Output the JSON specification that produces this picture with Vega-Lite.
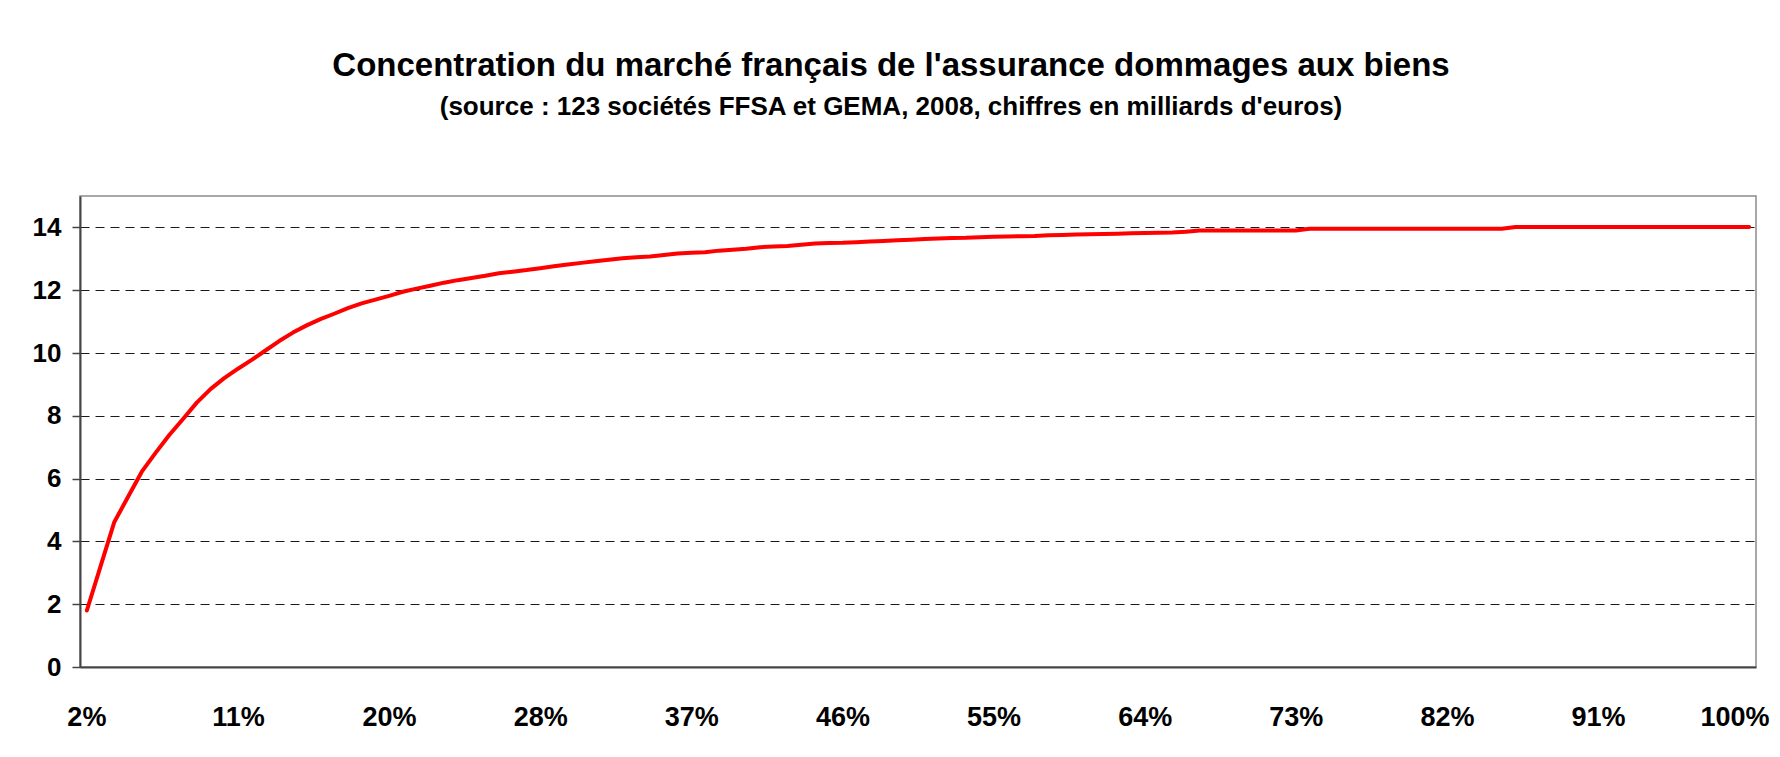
{
  "$schema": "https://vega.github.io/schema/vega-lite/v6.json",
  "autosize": {"type": "none"},
  "width": 1676,
  "height": 471,
  "padding": {"left": 80, "top": 196, "right": 24, "bottom": 90},
  "background": "white",
  "title": {
    "text": "Concentration du marché français de l'assurance dommages aux biens",
    "subtitle": "(source : 123 sociétés FFSA et GEMA, 2008, chiffres en milliards d'euros)",
    "anchor": "middle",
    "frame": "group",
    "dx": -27,
    "offset": 76,
    "font": "Liberation Sans",
    "fontSize": 33,
    "fontWeight": "bold",
    "color": "black",
    "subtitleFont": "Liberation Sans",
    "subtitleFontSize": 26,
    "subtitleFontWeight": "bold",
    "subtitleColor": "black",
    "subtitlePadding": 11
  },
  "config": {
    "view": {"stroke": "#8c8c8c", "strokeWidth": 1.5},
    "axis": {
      "labelFont": "Liberation Sans",
      "labelFontWeight": "bold",
      "labelColor": "black"
    }
  },
  "data": {
    "values": [
      {"rang": 2, "cumul": 1.80}, {"rang": 3, "cumul": 3.21}, {"rang": 4, "cumul": 4.62}, {"rang": 5, "cumul": 5.42},
      {"rang": 6, "cumul": 6.22}, {"rang": 7, "cumul": 6.82}, {"rang": 8, "cumul": 7.39}, {"rang": 9, "cumul": 7.90},
      {"rang": 10, "cumul": 8.42}, {"rang": 11, "cumul": 8.85}, {"rang": 12, "cumul": 9.20}, {"rang": 13, "cumul": 9.50},
      {"rang": 14, "cumul": 9.78}, {"rang": 15, "cumul": 10.08}, {"rang": 16, "cumul": 10.38}, {"rang": 17, "cumul": 10.65},
      {"rang": 18, "cumul": 10.88}, {"rang": 19, "cumul": 11.08}, {"rang": 20, "cumul": 11.25}, {"rang": 21, "cumul": 11.43},
      {"rang": 22, "cumul": 11.58}, {"rang": 23, "cumul": 11.70}, {"rang": 24, "cumul": 11.82}, {"rang": 25, "cumul": 11.95},
      {"rang": 26, "cumul": 12.05}, {"rang": 27, "cumul": 12.14}, {"rang": 28, "cumul": 12.24}, {"rang": 29, "cumul": 12.32},
      {"rang": 30, "cumul": 12.39}, {"rang": 31, "cumul": 12.46}, {"rang": 32, "cumul": 12.54}, {"rang": 33, "cumul": 12.59},
      {"rang": 34, "cumul": 12.64}, {"rang": 35, "cumul": 12.70}, {"rang": 36, "cumul": 12.76}, {"rang": 37, "cumul": 12.82},
      {"rang": 38, "cumul": 12.87}, {"rang": 39, "cumul": 12.92}, {"rang": 40, "cumul": 12.97}, {"rang": 41, "cumul": 13.02},
      {"rang": 42, "cumul": 13.05}, {"rang": 43, "cumul": 13.07}, {"rang": 44, "cumul": 13.12}, {"rang": 45, "cumul": 13.17},
      {"rang": 46, "cumul": 13.19}, {"rang": 47, "cumul": 13.21}, {"rang": 48, "cumul": 13.26}, {"rang": 49, "cumul": 13.29},
      {"rang": 50, "cumul": 13.32}, {"rang": 51, "cumul": 13.37}, {"rang": 52, "cumul": 13.39}, {"rang": 53, "cumul": 13.41},
      {"rang": 54, "cumul": 13.45}, {"rang": 55, "cumul": 13.49}, {"rang": 56, "cumul": 13.50}, {"rang": 57, "cumul": 13.51},
      {"rang": 58, "cumul": 13.53}, {"rang": 59, "cumul": 13.55}, {"rang": 60, "cumul": 13.57}, {"rang": 61, "cumul": 13.59},
      {"rang": 62, "cumul": 13.61}, {"rang": 63, "cumul": 13.63}, {"rang": 64, "cumul": 13.65}, {"rang": 65, "cumul": 13.66},
      {"rang": 66, "cumul": 13.67}, {"rang": 67, "cumul": 13.69}, {"rang": 68, "cumul": 13.70}, {"rang": 69, "cumul": 13.71},
      {"rang": 70, "cumul": 13.72}, {"rang": 71, "cumul": 13.73}, {"rang": 72, "cumul": 13.75}, {"rang": 73, "cumul": 13.76},
      {"rang": 74, "cumul": 13.77}, {"rang": 75, "cumul": 13.78}, {"rang": 76, "cumul": 13.79}, {"rang": 77, "cumul": 13.80},
      {"rang": 78, "cumul": 13.81}, {"rang": 79, "cumul": 13.82}, {"rang": 80, "cumul": 13.83}, {"rang": 81, "cumul": 13.84},
      {"rang": 82, "cumul": 13.86}, {"rang": 83, "cumul": 13.90}, {"rang": 84, "cumul": 13.90}, {"rang": 85, "cumul": 13.90},
      {"rang": 86, "cumul": 13.90}, {"rang": 87, "cumul": 13.90}, {"rang": 88, "cumul": 13.90}, {"rang": 89, "cumul": 13.90},
      {"rang": 90, "cumul": 13.90}, {"rang": 91, "cumul": 13.96}, {"rang": 92, "cumul": 13.96}, {"rang": 93, "cumul": 13.96},
      {"rang": 94, "cumul": 13.96}, {"rang": 95, "cumul": 13.96}, {"rang": 96, "cumul": 13.96}, {"rang": 97, "cumul": 13.96},
      {"rang": 98, "cumul": 13.96}, {"rang": 99, "cumul": 13.96}, {"rang": 100, "cumul": 13.96}, {"rang": 101, "cumul": 13.96},
      {"rang": 102, "cumul": 13.96}, {"rang": 103, "cumul": 13.96}, {"rang": 104, "cumul": 13.96}, {"rang": 105, "cumul": 13.96},
      {"rang": 106, "cumul": 14.01}, {"rang": 107, "cumul": 14.01}, {"rang": 108, "cumul": 14.01}, {"rang": 109, "cumul": 14.01},
      {"rang": 110, "cumul": 14.01}, {"rang": 111, "cumul": 14.01}, {"rang": 112, "cumul": 14.01}, {"rang": 113, "cumul": 14.01},
      {"rang": 114, "cumul": 14.01}, {"rang": 115, "cumul": 14.01}, {"rang": 116, "cumul": 14.01}, {"rang": 117, "cumul": 14.01},
      {"rang": 118, "cumul": 14.01}, {"rang": 119, "cumul": 14.01}, {"rang": 120, "cumul": 14.01}, {"rang": 121, "cumul": 14.01},
      {"rang": 122, "cumul": 14.01}, {"rang": 123, "cumul": 14.01}
    ]
  },
  "mark": {"type": "line", "color": "#ff0000", "strokeWidth": 4, "strokeCap": "round", "strokeJoin": "round"},
  "encoding": {
    "x": {
      "field": "rang",
      "type": "quantitative",
      "scale": {"domain": [1.5, 123.5], "nice": false, "zero": false},
      "axis": {
        "title": null,
        "values": [2, 13, 24, 35, 46, 57, 68, 79, 90, 101, 112, 123],
        "labelExpr": "format(datum.value / 123, '.0%')",
        "labelFontSize": 27,
        "grid": false,
        "ticks": false,
        "domainColor": "#444444",
        "domainWidth": 2,
        "labelPadding": 37,
        "labelFlush": 8,
        "labelFlushOffset": 20,
        "labelOverlap": false
      }
    },
    "y": {
      "field": "cumul",
      "type": "quantitative",
      "scale": {"domain": [0, 15], "nice": false},
      "axis": {
        "title": null,
        "values": [0, 2, 4, 6, 8, 10, 12, 14],
        "labelFontSize": 26,
        "grid": true,
        "gridDash": [9, 6],
        "gridColor": "#1a1a1a",
        "gridWidth": 1,
        "domainColor": "#444444",
        "domainWidth": 2,
        "tickColor": "#444444",
        "tickSize": 8,
        "tickWidth": 1.5,
        "labelPadding": 11,
        "labelFlush": false
      }
    }
  }
}
